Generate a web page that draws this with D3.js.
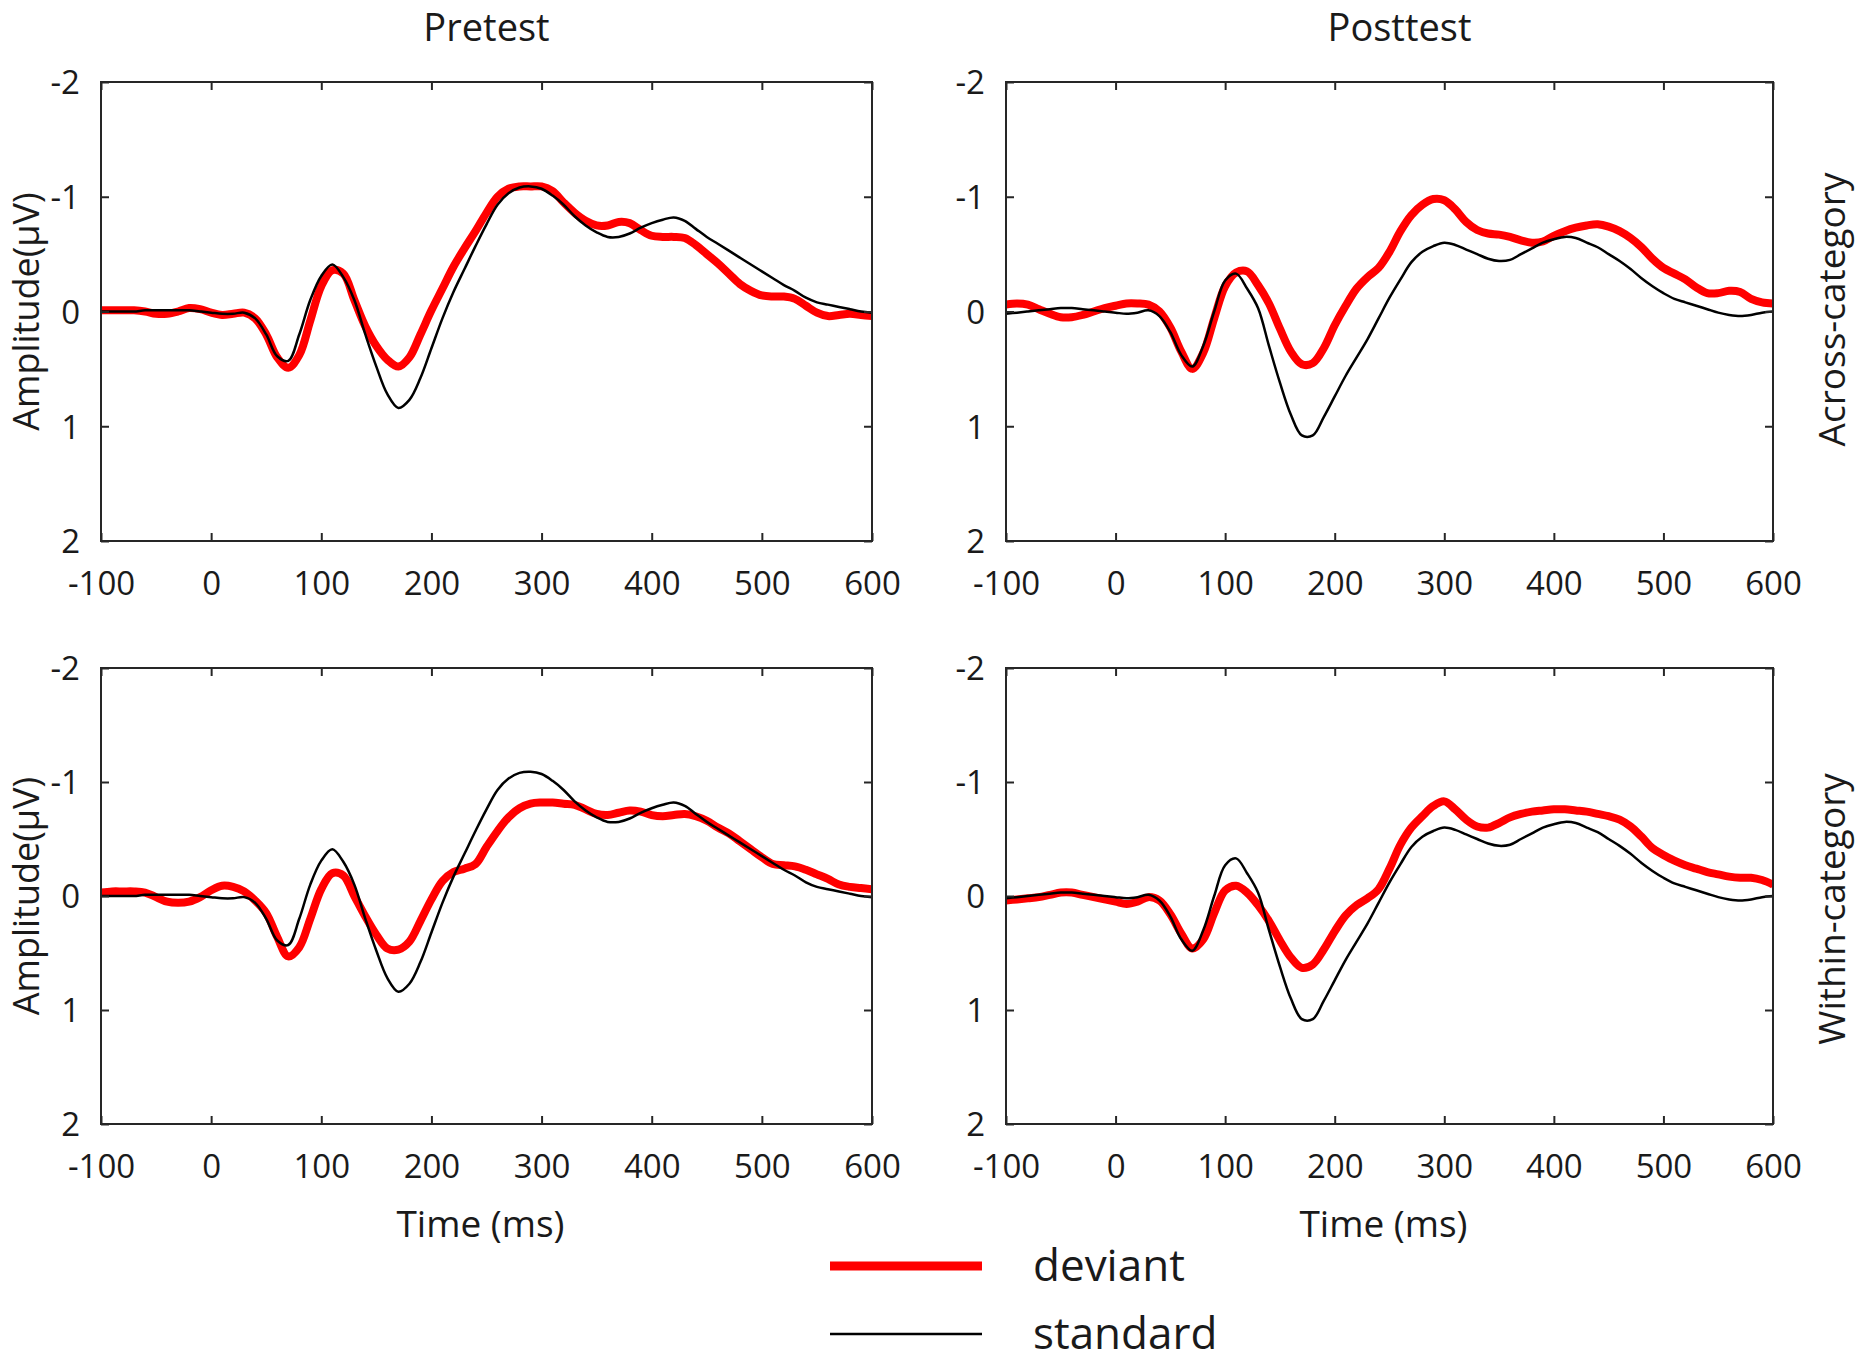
<!DOCTYPE html>
<html>
<head>
<meta charset="utf-8">
<script src="https://cdn.jsdelivr.net/npm/d3@7"></script>
<style>
  body { margin: 0; background: #fff; }
  text { font-family: "Open Sans", "Noto Sans", sans-serif; fill: #1a1a1a; }
</style>
</head>
<body>
<div id="chart"></div>
<script>

// time samples (ms), one value every 10 ms
var times = [-100, -90, -80, -70, -60, -50, -40, -30, -20, -10,
    0, 10, 20, 30, 40, 50, 60, 70, 80, 90,
    100, 110, 120, 130, 140, 150, 160, 170, 180, 190,
    200, 210, 220, 230, 240, 250, 260, 270, 280, 290,
    300, 310, 320, 330, 340, 350, 360, 370, 380, 390,
    400, 410, 420, 430, 440, 450, 460, 470, 480, 490,
    500, 510, 520, 530, 540, 550, 560, 570, 580, 590,
    600];

// standard waves (same in across / within panels)
var preStandard = [0, 0, 0, 0, -0.01, -0.01, -0.01, -0.01, -0.01, 0,
    0.01, 0.02, 0.02, 0.01, 0.06, 0.2, 0.39, 0.43, 0.2, -0.1,
    -0.31, -0.41, -0.3, -0.1, 0.2, 0.48, 0.72, 0.84, 0.77, 0.58,
    0.32, 0.06, -0.17, -0.37, -0.57, -0.76, -0.93, -1.03, -1.08, -1.09,
    -1.07, -1.01, -0.93, -0.83, -0.75, -0.69, -0.65, -0.65, -0.68, -0.73,
    -0.77, -0.8, -0.82, -0.79, -0.72, -0.65, -0.59, -0.53, -0.47, -0.41,
    -0.35, -0.29, -0.23, -0.18, -0.12, -0.08, -0.06, -0.04, -0.02, 0,
    0.01];

var postStandard = [0.02, 0.01, 0, -0.01, -0.02, -0.03, -0.03, -0.02, -0.01, 0,
    0.01, 0.02, 0.01, -0.01, 0.04, 0.18, 0.38, 0.48, 0.3, 0,
    -0.27, -0.33, -0.2, -0.03, 0.3, 0.62, 0.9, 1.08, 1.08, 0.92,
    0.74, 0.56, 0.4, 0.24, 0.06, -0.12, -0.28, -0.43, -0.52, -0.57,
    -0.6, -0.58, -0.54, -0.5, -0.46, -0.44, -0.45, -0.5, -0.55, -0.6,
    -0.63, -0.65, -0.64, -0.6, -0.56, -0.5, -0.44, -0.37, -0.29, -0.22,
    -0.16, -0.11, -0.08, -0.05, -0.02, 0.01, 0.03, 0.04, 0.03, 0.01,
    0];

// deviant waves
var preDevAcross = [-0.01, -0.01, -0.01, -0.01, 0, 0.02, 0.02, 0, -0.03, -0.02,
    0.01, 0.03, 0.02, 0.01, 0.06, 0.2, 0.4, 0.49, 0.38, 0.08,
    -0.22, -0.36, -0.33, -0.1, 0.13, 0.3, 0.42, 0.48, 0.4, 0.2,
    -0.01, -0.2, -0.39, -0.55, -0.7, -0.86, -1.0, -1.07, -1.09, -1.09,
    -1.09, -1.05, -0.95, -0.86, -0.79, -0.75, -0.75, -0.78, -0.77, -0.71,
    -0.66, -0.65, -0.65, -0.64, -0.58, -0.5, -0.42, -0.33, -0.24, -0.18,
    -0.14, -0.13, -0.13, -0.11, -0.05, 0.01, 0.04, 0.03, 0.02, 0.03,
    0.04];

var postDevAcross = [-0.06, -0.07, -0.06, -0.02, 0.02, 0.05, 0.05, 0.03, 0, -0.03,
    -0.05, -0.07, -0.07, -0.06, 0, 0.14, 0.35, 0.5, 0.36, 0.06,
    -0.22, -0.34, -0.35, -0.23, -0.07, 0.15, 0.35, 0.46, 0.45, 0.32,
    0.12, -0.05, -0.2, -0.3, -0.38, -0.52, -0.7, -0.84, -0.93, -0.98,
    -0.97, -0.89, -0.78, -0.71, -0.68, -0.67, -0.65, -0.62, -0.6, -0.61,
    -0.66, -0.7, -0.73, -0.75, -0.76, -0.74, -0.7, -0.64, -0.56, -0.46,
    -0.38, -0.33, -0.28, -0.21, -0.16, -0.16, -0.18, -0.17, -0.11, -0.08,
    -0.07];

var preDevWithin = [-0.03, -0.04, -0.04, -0.04, -0.03, 0.01, 0.05, 0.06, 0.05, 0.01,
    -0.05, -0.09, -0.08, -0.04, 0.04, 0.15, 0.36, 0.53, 0.45, 0.2,
    -0.06, -0.2, -0.18, 0, 0.18, 0.34, 0.46, 0.47, 0.4, 0.22,
    0.03, -0.13, -0.21, -0.24, -0.28, -0.43, -0.57, -0.69, -0.77, -0.81,
    -0.82, -0.82, -0.81, -0.8, -0.76, -0.72, -0.71, -0.73, -0.75, -0.74,
    -0.71, -0.7, -0.71, -0.72, -0.7, -0.66, -0.6, -0.55, -0.48, -0.41,
    -0.34, -0.28, -0.27, -0.26, -0.23, -0.19, -0.15, -0.1, -0.08, -0.07,
    -0.06];

var postDevWithin = [0.04, 0.03, 0.02, 0.01, -0.01, -0.03, -0.03, -0.01, 0.01, 0.03,
    0.05, 0.07, 0.05, 0.01, 0.04, 0.16, 0.33, 0.46, 0.38, 0.15,
    -0.05, -0.09, -0.03, 0.08, 0.22, 0.39, 0.54, 0.63, 0.6, 0.47,
    0.31, 0.17, 0.08, 0.02, -0.06, -0.24, -0.45, -0.6, -0.7, -0.79,
    -0.83, -0.76, -0.67, -0.61, -0.6, -0.64, -0.69, -0.72, -0.74, -0.75,
    -0.76, -0.76, -0.75, -0.74, -0.72, -0.7, -0.67, -0.61, -0.52, -0.42,
    -0.36, -0.31, -0.27, -0.24, -0.21, -0.19, -0.17, -0.16, -0.16, -0.14,
    -0.1];

var xTicks = [-100, 0, 100, 200, 300, 400, 500, 600];
var yTicks = [-2, -1, 0, 1, 2];

var colTitles = ["Pretest", "Posttest"];
var rowTitles = ["Across-category", "Within-category"];
var legendLabels = ["deviant", "standard"];

var width = 1857, height = 1362;
var cols = [{ x0: 101, x1: 872 }, { x0: 1006, x1: 1773 }];
var rows = [{ y0: 82, y1: 541 }, { y0: 668, y1: 1124 }];
var frameColor = "#262626";

var panels = [
    { c: 0, r: 0, dev: preDevAcross, std: preStandard },
    { c: 1, r: 0, dev: postDevAcross, std: postStandard },
    { c: 0, r: 1, dev: preDevWithin, std: preStandard },
    { c: 1, r: 1, dev: postDevWithin, std: postStandard }
];

function toPoints(values) {
    return times.map(function (t, i) { return [t, values[i]]; });
}

var svg = d3.select("#chart").append("svg")
    .attr("width", width)
    .attr("height", height);

svg.append("rect").attr("width", width).attr("height", height).attr("fill", "#fff");

panels.forEach(function (p, k) {
    var col = cols[p.c], row = rows[p.r];
    var x = d3.scaleLinear().domain([-100, 600]).range([col.x0, col.x1]);
    var y = d3.scaleLinear().domain([-2, 2]).range([row.y0, row.y1]);

    var g = svg.append("g");

    g.append("clipPath").attr("id", "clip" + k)
        .append("rect")
        .attr("x", col.x0).attr("y", row.y0)
        .attr("width", col.x1 - col.x0).attr("height", row.y1 - row.y0);

    var line = d3.line()
        .x(function (d) { return x(d[0]); })
        .y(function (d) { return y(d[1]); })
        .curve(d3.curveCatmullRom.alpha(0.5));

    var lines = g.append("g").attr("clip-path", "url(#clip" + k + ")");
    lines.append("path")
        .attr("d", line(toPoints(p.dev)))
        .attr("fill", "none")
        .attr("stroke", "#ff0000")
        .attr("stroke-width", 8)
        .attr("stroke-linejoin", "round");
    lines.append("path")
        .attr("d", line(toPoints(p.std)))
        .attr("fill", "none")
        .attr("stroke", "#000")
        .attr("stroke-width", 2.5);

    // axes: ticks point inwards on all four sides
    var fmt = function (d) { return String(d); };
    g.append("g")
        .attr("transform", "translate(0," + row.y1 + ")")
        .call(d3.axisBottom(x).tickValues(xTicks).tickSizeInner(-8).tickSizeOuter(0)
            .tickPadding(31).tickFormat(fmt));
    var left = g.append("g")
        .attr("transform", "translate(" + col.x0 + ",0)")
        .call(d3.axisLeft(y).tickValues(yTicks).tickSizeInner(-8).tickSizeOuter(0)
            .tickPadding(21).tickFormat(fmt));
    g.append("g")
        .attr("transform", "translate(0," + row.y0 + ")")
        .call(d3.axisTop(x).tickValues(xTicks).tickSizeInner(-8).tickSizeOuter(0).tickFormat(""));
    g.append("g")
        .attr("transform", "translate(" + col.x1 + ",0)")
        .call(d3.axisRight(y).tickValues(yTicks).tickSizeInner(-8).tickSizeOuter(0).tickFormat(""));

    g.selectAll(".domain").remove();
    g.selectAll(".tick line").attr("stroke", frameColor).attr("stroke-width", 2);
    g.selectAll(".tick text")
        .attr("font-family", "Open Sans")
        .attr("font-size", 33)
        .attr("fill", "#1a1a1a");
    left.selectAll(".tick text").attr("dy", "0.36em");

    g.append("rect")
        .attr("x", col.x0).attr("y", row.y0)
        .attr("width", col.x1 - col.x0).attr("height", row.y1 - row.y0)
        .attr("fill", "none")
        .attr("stroke", frameColor)
        .attr("stroke-width", 2);

    var cx = (col.x0 + col.x1) / 2, cy = (row.y0 + row.y1) / 2;

    if (p.r === 0) {
        g.append("text")
            .attr("x", cx + (p.c === 1 ? 10 : 0)).attr("y", 41)
            .attr("text-anchor", "middle")
            .attr("font-size", 38)
            .text(colTitles[p.c]);
    }
    if (p.r === 1) {
        g.append("text")
            .attr("x", cx - 6).attr("y", 1237)
            .attr("text-anchor", "middle")
            .attr("font-size", 37)
            .text("Time (ms)");
    }
    if (p.c === 0) {
        g.append("text")
            .attr("transform", "translate(39," + cy + ") rotate(-90)")
            .attr("text-anchor", "middle")
            .attr("font-size", 36)
            .text("Amplitude(\u03bcV)");
    }
    if (p.c === 1) {
        g.append("text")
            .attr("transform", "translate(1845," + (cy + (p.r === 0 ? -2 : 13)) + ") rotate(-90)")
            .attr("text-anchor", "middle")
            .attr("font-size", 37)
            .text(rowTitles[p.r]);
    }
});

// legend
var legend = svg.append("g");
var legendStyles = [{ color: "#ff0000", w: 9, y: 1266 }, { color: "#000", w: 2.5, y: 1334 }];
legendLabels.forEach(function (label, i) {
    var s = legendStyles[i];
    legend.append("line")
        .attr("x1", 830).attr("x2", 982)
        .attr("y1", s.y).attr("y2", s.y)
        .attr("stroke", s.color)
        .attr("stroke-width", s.w);
    legend.append("text")
        .attr("x", 1033).attr("y", s.y + 15)
        .attr("font-size", 44)
        .text(label);
});

</script>
</body>
</html>
